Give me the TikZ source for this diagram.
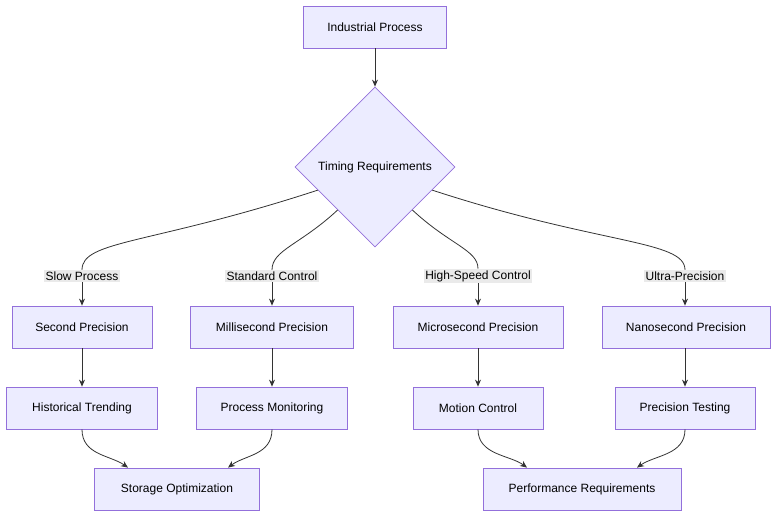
\documentclass[tikz,border=0pt]{standalone}
\usepackage{fontspec}
\setmainfont{Liberation Sans}
\usetikzlibrary{shapes.geometric,arrows.meta}
\definecolor{nf}{HTML}{ECECFF}\definecolor{ns}{HTML}{9370DB}\definecolor{ln}{HTML}{333333}
\begin{document}
\begin{tikzpicture}[x=1pt,y=-1pt,
 box/.style={draw=ns,fill=nf,line width=0.8pt,minimum height=42pt,inner sep=0pt,font=\fontsize{12}{14}\selectfont},
 lab/.style={fill=gray!20,fill opacity=0.8,text opacity=1,inner sep=1.5pt,font=\fontsize{12}{14}\selectfont},
 e/.style={draw=ln,line width=0.8pt},
 a/.style={e,-{Stealth[length=7pt,width=6pt]}}]
\useasboundingbox (0,0) rectangle (784,523);
\node[box,minimum width=143pt] (ip) at (375,27) {Industrial Process};
\node[diamond,draw=ns,fill=nf,line width=0.8pt,minimum width=160pt,minimum height=160pt,inner sep=0pt,font=\fontsize{12}{14}\selectfont] (tr) at (375,167) {Timing Requirements};
\node[lab] (l1) at (82,276) {Slow Process};
\node[lab] (l2) at (272,276) {Standard Control};
\node[lab] (l3) at (478,276) {High-Speed Control};
\node[lab] (l4) at (685,276) {Ultra-Precision};
\node[box,minimum width=140pt] (s) at (82,327) {Second Precision};
\node[box,minimum width=163pt] (ms) at (272,327) {Millisecond Precision};
\node[box,minimum width=170pt] (us) at (478,327) {Microsecond Precision};
\node[box,minimum width=168pt] (ns) at (686,327) {Nanosecond Precision};
\node[box,minimum width=151pt] (ht) at (82,408) {Historical Trending};
\node[box,minimum width=151pt] (pm) at (272,408) {Process Monitoring};
\node[box,minimum width=130pt] (mc) at (478,408) {Motion Control};
\node[box,minimum width=140pt] (pt) at (685,408) {Precision Testing};
\node[box,minimum width=165pt] (so) at (177,489) {Storage Optimization};
\node[box,minimum width=198pt] (pr) at (582,489) {Performance Requirements};
\draw[a] (ip) -- (tr);
\draw[e] (tr.202) .. controls (150,245) and (82,240) .. (l1.north);
\draw[e] (tr.229) .. controls (300,245) and (272,250) .. (l2.north);
\draw[e] (tr.311) .. controls (450,245) and (478,250) .. (l3.north);
\draw[e] (tr.338) .. controls (600,245) and (685,240) .. (l4.north);
\draw[a] (l1) -- (s); \draw[a] (l2) -- (ms); \draw[a] (l3) -- (us); \draw[a] (l4) -- (ns.north -| l4);
\draw[a] (s) -- (ht); \draw[a] (ms) -- (pm); \draw[a] (us) -- (mc); \draw[a] (ns.south -| pt) -- (pt);
\draw[a] (ht.south) .. controls (82,455) and (110,455) .. (so.north -| 128,0);
\draw[a] (pm.south) .. controls (272,455) and (245,455) .. (so.north -| 228,0);
\draw[a] (mc.south) .. controls (478,455) and (510,455) .. (pr.north -| 527,0);
\draw[a] (pt.south) .. controls (685,455) and (655,455) .. (pr.north -| 637,0);
\end{tikzpicture}
\end{document}
